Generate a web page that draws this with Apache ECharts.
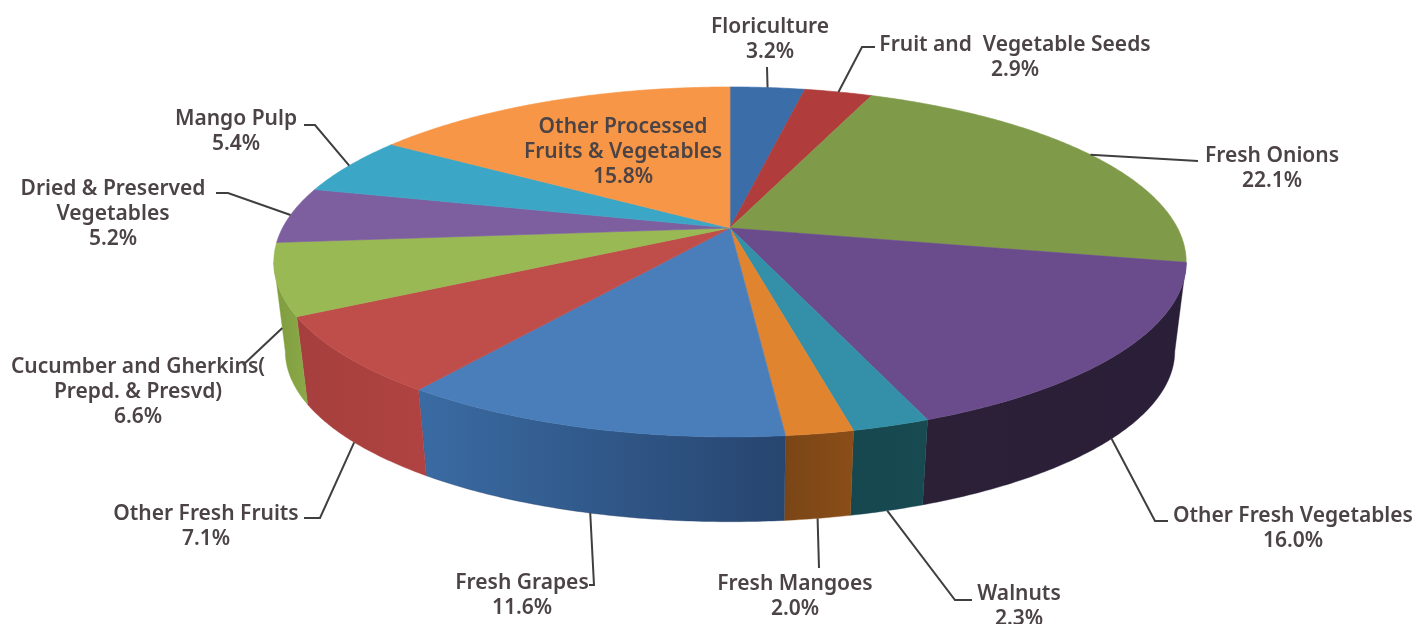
<!DOCTYPE html>
<html>
<head>
<meta charset="utf-8">
<style>html,body{margin:0;padding:0;background:#fff}#chart{width:1419px;height:624px}</style>
<script src="https://cdn.jsdelivr.net/npm/echarts@6/dist/echarts.min.js"></script>
</head>
<body>
<div id="chart"></div>
<script>
// Export shares, clockwise from twelve o'clock
const categories = [
  'Floriculture', 'Fruit and  Vegetable Seeds', 'Fresh Onions', 'Other Fresh Vegetables',
  'Walnuts', 'Fresh Mangoes', 'Fresh Grapes', 'Other Fresh Fruits',
  'Cucumber and Gherkins(\nPrepd. & Presvd)', 'Dried & Preserved\nVegetables', 'Mango Pulp',
  'Other Processed\nFruits & Vegetables'
];
const shares = [3.2, 2.9, 22.1, 16.0, 2.3, 2.0, 11.6, 7.1, 6.6, 5.2, 5.4, 15.8];

// Slice face colours and the left/right shades of each slice's outer wall
const faceColors = ['#3b6ea8', '#b03c3c', '#7f9a48', '#6a4c8c', '#3390a8', '#e0842f',
                    '#4a7ebb', '#bf4d4a', '#98b954', '#7d5fa0', '#3ba6c6', '#f79646'];
const wallColors = [null, null, null, ['#2b2036', '#2a1f38'], ['#16474e', '#184a52'], ['#7a4516', '#8a4e18'],
                    ['#3a6ba3', '#27456f'], ['#a53f3d', '#b04341'], ['#7f9c3e', '#8aa948'], null, null, null];

// Label centres and leader routes; each leader starts on its slice's mid-angle
const labelCenters = [[770, 40], [1015, 58], [1272, 169], [1293, 529], [1019, 607], [795, 597],
                      [522, 596], [206, 527], [138, 392], [113, 214], [236, 132], [623, 152]];
const leaderRoutes = [
  { depth: 0, path: [[767, 67]] },
  { depth: 0, path: [[862, 47], [875, 47]] },
  { depth: 0, path: [[1198, 161]] },
  { depth: 1, path: [[1155, 521], [1168, 521]] },
  { depth: 1, path: [[955, 600], [972, 600]] },
  { depth: 1, path: [[819, 568]] },
  { depth: 1, path: [[594, 585], [589, 585]] },
  { depth: 1, path: [[320, 518], [304, 518]] },
  { depth: 0.55, path: [[243, 365]] },
  { depth: 0, path: [[228, 193], [216, 193]] },
  { depth: 0, path: [[315, 125], [304, 125]] },
  null
];

// Perspective view of the disc: the eye sits in front of and above the pie
const apexX = 730, apexY = 228, wallDrop = 90, radiusX = 447.5, radiusY = 168.4, tilt = 0.194, baseScale = 0.975;
const rightLimit = Math.PI / 2 + Math.asin(tilt);
const leftLimit = 3 * Math.PI / 2 - Math.asin(tilt);
const total = shares.reduce((a, b) => a + b, 0);

function project(theta, depth) {
  const u = Math.sin(theta), v = -Math.cos(theta), f = 1 - tilt * v;
  const s = 1 + (baseScale - 1) * depth;
  return [apexX + radiusX * s * u / f, apexY + wallDrop * depth + radiusY * s * v / f];
}
function arc(from, to, depth) {
  const n = Math.max(2, Math.ceil((to - from) / 0.01));
  const pts = [];
  for (let i = 0; i <= n; i++) pts.push(project(from + (to - from) * i / n, depth));
  return pts;
}

function renderSlice(params, api) {
  const i = params.dataIndex;
  let before = 0;
  for (let k = 0; k < i; k++) before += shares[k];
  const start = before / total * 2 * Math.PI;
  const end = start + api.value(0) / total * 2 * Math.PI;
  const mid = (start + end) / 2;
  const children = [];

  const wallFrom = Math.max(start, rightLimit), wallTo = Math.min(end, leftLimit);
  if (wallTo > wallFrom && wallColors[i]) {
    const pts = arc(wallFrom, wallTo, 0).concat(arc(wallFrom, wallTo, 1).reverse());
    const xs = pts.map(p => p[0]);
    const shade = wallColors[i];
    const fill = new echarts.graphic.LinearGradient(
      Math.min.apply(null, xs), 0, Math.max.apply(null, xs), 0,
      [{ offset: 0, color: shade[0] }, { offset: 1, color: shade[1] }], true);
    children.push({ type: 'polygon', z2: 1, shape: { points: pts },
      style: { fill: fill, stroke: shade[1], lineWidth: 0.4 } });
  }

  children.push({ type: 'polygon', z2: 2, shape: { points: [[apexX, apexY]].concat(arc(start, end, 0)) },
    style: { fill: faceColors[i], stroke: faceColors[i], lineWidth: 0.6 } });

  const route = leaderRoutes[i];
  if (route) {
    children.push({ type: 'polyline', z2: 3, shape: { points: [project(mid, route.depth)].concat(route.path) },
      style: { fill: null, stroke: '#3f3f3f', lineWidth: 2 } });
  }

  const center = labelCenters[i];
  children.push({ type: 'text', z2: 4, style: {
    text: categories[i] + '\n' + api.value(0).toFixed(1) + '%',
    x: center[0], y: center[1], align: 'center', verticalAlign: 'middle',
    fontFamily: '"Noto Sans", sans-serif', fontWeight: 600, fontSize: 21, lineHeight: 25,
    fill: '#4b4345' } });

  return { type: 'group', children: children };
}

const chart = echarts.init(document.getElementById('chart'), null, { renderer: 'canvas' });
chart.setOption({
  backgroundColor: '#ffffff',
  animation: false,
  series: [{
    type: 'custom',
    coordinateSystem: 'none',
    silent: true,
    renderItem: renderSlice,
    data: shares.map((v, i) => ({ name: categories[i], value: [v] }))
  }]
});
</script>
</body>
</html>
